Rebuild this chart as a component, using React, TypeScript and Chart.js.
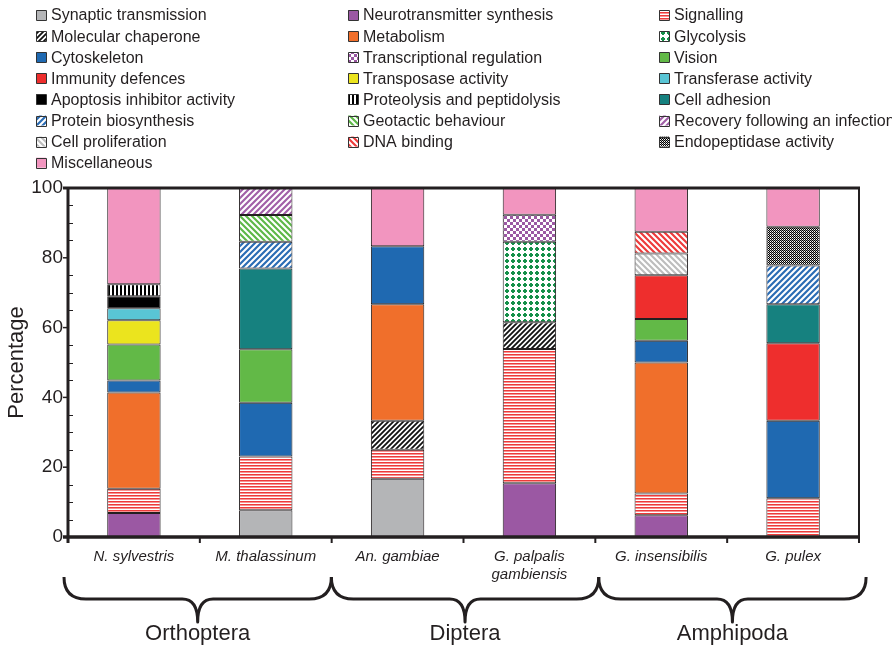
import React, { useEffect, useRef } from 'react';
import { Chart, registerables } from 'chart.js';

Chart.register(...registerables);

// ---------- data ----------
const species: (string | string[])[] = [
  'N. sylvestris',
  'M. thalassinum',
  'An. gambiae',
  ['G. palpalis', 'gambiensis'],
  'G. insensibilis',
  'G. pulex',
];
const groupNames = ['Orthoptera', 'Diptera', 'Amphipoda'];
const groupFirst = [0, 2, 4];
const groupLast = [1, 3, 5];
const yTickValues = [0, 20, 40, 60, 80, 100];

const synaptic = [null, 7.69, 16.67, null, null, null];
const neurotransmitter = [6.9, null, null, 15.38, 6.25, null];
const signalling = [6.9, 15.38, 8.33, 38.46, 6.25, 11.11];
const chaperone = [null, null, 8.33, 7.69, null, null];
const metabolism = [27.59, null, 33.33, null, 37.5, null];
const cytoskeleton = [3.45, 15.38, 16.67, null, 6.25, 22.22];
const vision = [10.34, 15.38, null, null, 6.25, null];
const glycolysis = [null, null, null, 23.08, null, null];
const immunity = [null, null, null, null, 12.5, 22.22];
const cellAdhesion = [null, 23.08, null, null, null, 11.11];
const transposase = [6.9, null, null, null, null, null];
const transferase = [3.45, null, null, null, null, null];
const apoptosis = [3.45, null, null, null, null, null];
const proteolysis = [3.45, null, null, null, null, null];
const proteinBio = [null, 7.69, null, null, null, 11.11];
const cellProlif = [null, null, null, null, 6.25, null];
const geotactic = [null, 7.69, null, null, null, null];
const dnaBinding = [null, null, null, null, 6.25, null];
const recovery = [null, 7.69, null, null, null, null];
const transcriptional = [null, null, null, 7.69, null, null];
const endopeptidase = [null, null, null, null, null, 11.11];
const miscellaneous = [27.59, null, 16.67, 7.69, 12.5, 11.11];

// stacking order (bottom to top)
const seriesNames = [
  'Synaptic transmission',
  'Neurotransmitter synthesis',
  'Signalling',
  'Molecular chaperone',
  'Metabolism',
  'Cytoskeleton',
  'Vision',
  'Glycolysis',
  'Immunity defences',
  'Cell adhesion',
  'Transposase activity',
  'Transferase activity',
  'Apoptosis inhibitor activity',
  'Proteolysis and peptidolysis',
  'Protein biosynthesis',
  'Cell proliferation',
  'Geotactic behaviour',
  'DNA binding',
  'Recovery following an infection',
  'Transcriptional regulation',
  'Endopeptidase activity',
  'Miscellaneous',
];
const seriesValues = [
  synaptic, neurotransmitter, signalling, chaperone, metabolism, cytoskeleton,
  vision, glycolysis, immunity, cellAdhesion, transposase, transferase, apoptosis,
  proteolysis, proteinBio, cellProlif, geotactic, dnaBinding, recovery,
  transcriptional, endopeptidase, miscellaneous,
];

// legend order (row-major, 3 columns)
const legendOrder = [
  'Synaptic transmission', 'Neurotransmitter synthesis', 'Signalling',
  'Molecular chaperone', 'Metabolism', 'Glycolysis',
  'Cytoskeleton', 'Transcriptional regulation', 'Vision',
  'Immunity defences', 'Transposase activity', 'Transferase activity',
  'Apoptosis inhibitor activity', 'Proteolysis and peptidolysis', 'Cell adhesion',
  'Protein biosynthesis', 'Geotactic behaviour', 'Recovery following an infection',
  'Cell proliferation', 'DNA binding', 'Endopeptidase activity',
  'Miscellaneous',
];

// ---------- styles ----------
const INK = '#231f20';
type Kind = 'solid' | 'hstripe' | 'fwd' | 'back' | 'vstripe' | 'dots' | 'checker' | 'fine';
const seriesStyle: Record<string, [Kind, string]> = {
  'Synaptic transmission': ['solid', '#b4b5b7'],
  'Neurotransmitter synthesis': ['solid', '#9b58a3'],
  'Signalling': ['hstripe', '#ee3a3a'],
  'Molecular chaperone': ['fwd', '#111111'],
  'Metabolism': ['solid', '#f06f2b'],
  'Cytoskeleton': ['solid', '#1f69b1'],
  'Vision': ['solid', '#62b947'],
  'Glycolysis': ['dots', '#16904a'],
  'Immunity defences': ['solid', '#ee2e2d'],
  'Cell adhesion': ['solid', '#16817f'],
  'Transposase activity': ['solid', '#ebe41e'],
  'Transferase activity': ['solid', '#59c5d5'],
  'Apoptosis inhibitor activity': ['solid', '#000000'],
  'Proteolysis and peptidolysis': ['vstripe', '#000000'],
  'Protein biosynthesis': ['fwd', '#2a6cb4'],
  'Cell proliferation': ['back', '#bdbdbd'],
  'Geotactic behaviour': ['back', '#5db847'],
  'DNA binding': ['back', '#ee3a3a'],
  'Recovery following an infection': ['fwd', '#a15fa8'],
  'Transcriptional regulation': ['checker', '#9b58a3'],
  'Endopeptidase activity': ['fine', '#000000'],
  'Miscellaneous': ['solid', '#f295bf'],
};

function makeFill(kind: Kind, color: string): string | CanvasPattern {
  if (kind === 'solid') return color;
  const size =
    kind === 'hstripe' ? [4, 3]
    : kind === 'vstripe' ? [4, 4]
    : kind === 'fine' ? [2, 2]
    : kind === 'fwd' && color === '#111111' ? [5, 5]
    : [6, 6];
  const c = document.createElement('canvas');
  c.width = size[0];
  c.height = size[1];
  const g = c.getContext('2d')!;
  const w = size[0], h = size[1];
  g.fillStyle = '#ffffff';
  g.fillRect(0, 0, w, h);
  g.fillStyle = color;
  g.strokeStyle = color;
  if (kind === 'hstripe') {
    g.fillRect(0, 0, w, 1);
    g.globalAlpha = 0.55;
    g.fillRect(0, 1, w, 1);
    g.globalAlpha = 1;
  } else if (kind === 'vstripe') {
    g.fillRect(0, 0, 2, h);
  } else if (kind === 'fwd' || kind === 'back') {
    g.lineWidth = w * 0.36;
    g.beginPath();
    if (kind === 'fwd') {
      g.moveTo(-1, h + 1); g.lineTo(w + 1, -1);
      g.moveTo(-w / 2 - 1, h / 2 + 1); g.lineTo(w / 2 + 1, -h / 2 - 1);
      g.moveTo(w / 2 - 1, h * 1.5 + 1); g.lineTo(w * 1.5 + 1, h / 2 - 1);
    } else {
      g.moveTo(-1, -1); g.lineTo(w + 1, h + 1);
      g.moveTo(w / 2 - 1, -h / 2 - 1); g.lineTo(w * 1.5 + 1, h / 2 + 1);
      g.moveTo(-w / 2 - 1, h / 2 - 1); g.lineTo(w / 2 + 1, h * 1.5 + 1);
    }
    g.stroke();
  } else if (kind === 'dots') {
    g.fillRect(2, 1, 2, 4);
    g.fillRect(1, 2, 4, 2);
  } else if (kind === 'checker') {
    g.fillRect(0, 0, 3, 3);
    g.fillRect(3, 3, 3, 3);
  } else if (kind === 'fine') {
    g.fillRect(0, 0, 1, 1);
    g.fillRect(1, 1, 1, 1);
    g.globalAlpha = 0.4;
    g.fillRect(1, 0, 1, 1);
    g.globalAlpha = 1;
  }
  return g.createPattern(c, 'repeat')!;
}

const FONT = '"Liberation Sans", Arial, Helvetica, sans-serif';

export default function App() {
  const ref = useRef<HTMLCanvasElement | null>(null);

  useEffect(() => {
    document.body.style.margin = '0';
    const canvas = ref.current;
    if (!canvas) return;

    const fills: Record<string, string | CanvasPattern> = {};
    for (const name of seriesNames) {
      const [kind, color] = seriesStyle[name];
      fills[name] = makeFill(kind, color);
    }

    const datasets = seriesNames.map((name, i) => ({
      label: name,
      data: seriesValues[i],
      backgroundColor: fills[name] as any,
      borderColor: INK,
      borderWidth: 1,
      borderSkipped: false as any,
      barPercentage: 0.405,
      categoryPercentage: 1,
    }));

    const line = (ctx: CanvasRenderingContext2D, x1: number, y1: number, x2: number, y2: number) => {
      ctx.beginPath();
      ctx.moveTo(x1, y1);
      ctx.lineTo(x2, y2);
      ctx.stroke();
    };

    const decor = {
      id: 'decor',
      afterDraw(chart: any) {
        const ctx: CanvasRenderingContext2D = chart.ctx;
        const { left, right, top, bottom } = chart.chartArea;
        const xs = chart.scales.x;
        const ys = chart.scales.y;
        ctx.save();
        ctx.strokeStyle = INK;
        ctx.fillStyle = INK;

        // minor ticks inside
        ctx.lineWidth = 1;
        for (let v = 5; v < 100; v += 5) {
          if (v % 20 === 0) continue;
          const py = Math.round(ys.getPixelForValue(v)) + 0.5;
          line(ctx, left, py, left + 5, py);
        }
        // major ticks outside
        ctx.lineWidth = 1.5;
        for (const v of yTickValues) {
          const py = ys.getPixelForValue(v);
          line(ctx, left - 5, py, left, py);
        }
        // x ticks at category boundaries
        ctx.lineWidth = 2;
        const n = species.length;
        const step = xs.getPixelForValue(1) - xs.getPixelForValue(0);
        for (let i = 1; i < n; i++) {
          const px = (xs.getPixelForValue(i - 1) + xs.getPixelForValue(i)) / 2;
          line(ctx, px, bottom, px, bottom + 6);
        }
        // frame
        ctx.lineWidth = 3;
        line(ctx, left - 5, top, right + 1, top);
        line(ctx, left, top - 1, left, bottom + 6);
        ctx.lineWidth = 3.5;
        line(ctx, left - 5, bottom, right + 1, bottom);
        ctx.lineWidth = 2;
        line(ctx, right, top, right, bottom + 6);

        // braces + group labels
        ctx.lineWidth = 3;
        ctx.lineJoin = 'round';
        ctx.lineCap = 'butt';
        const yt = 577, yh = 599, yp = 622, r = 22;
        for (let gI = 0; gI < groupNames.length; gI++) {
          const x0 = xs.getPixelForValue(groupFirst[gI]) - step / 2 - 4 + 3.7 * gI;
          const x1 = xs.getPixelForValue(groupLast[gI]) + step / 2 - 4 + 3.7 * (gI + 1);
          const xm = (x0 + x1) / 2;
          ctx.beginPath();
          ctx.moveTo(x0, yt);
          ctx.quadraticCurveTo(x0, yh, x0 + r, yh);
          ctx.lineTo(xm - r * 0.7, yh);
          ctx.quadraticCurveTo(xm, yh, xm, yp);
          ctx.quadraticCurveTo(xm, yh, xm + r * 0.7, yh);
          ctx.lineTo(x1 - r, yh);
          ctx.quadraticCurveTo(x1, yh, x1, yt);
          ctx.stroke();

          ctx.font = `22px ${FONT}`;
          ctx.textAlign = 'center';
          ctx.textBaseline = 'middle';
          ctx.fillText(groupNames[gI], xm, 634);
        }

        // legend
        const colX = [36, 348, 659];
        ctx.font = `16px ${FONT}`;
        ctx.textAlign = 'left';
        ctx.textBaseline = 'middle';
        legendOrder.forEach((name, k) => {
          const col = k % 3;
          const row = Math.floor(k / 3);
          const cy = 15 + row * 21.1;
          const bx = colX[col];
          ctx.fillStyle = fills[name] as any;
          ctx.fillRect(bx, cy - 5, 10, 10);
          ctx.lineWidth = 1;
          ctx.strokeStyle = '#333333';
          ctx.strokeRect(bx + 0.5, Math.round(cy - 5) + 0.5, 10, 10);
          ctx.fillStyle = INK;
          ctx.fillText(name, bx + 15, cy + 1);
        });

        ctx.restore();
      },
    };

    const chart = new Chart(canvas, {
      type: 'bar',
      data: { labels: species as any, datasets },
      options: {
        responsive: false,
        animation: false,
        devicePixelRatio: 1,
        layout: { padding: { left: 0, top: 188, right: 33, bottom: 0 } },
        plugins: {
          legend: { display: false },
          tooltip: { enabled: false },
        },
        scales: {
          x: {
            stacked: true,
            grid: { display: false, drawTicks: false },
            border: { display: false },
            ticks: {
              color: INK,
              padding: 10,
              maxRotation: 0,
              autoSkip: false,
              font: { family: FONT, size: 15, style: 'italic', lineHeight: 1.25 },
            },
            afterFit: (s: any) => { s.height = 110; },
          },
          y: {
            stacked: true,
            min: 0,
            max: 100,
            grid: { display: false, drawTicks: false },
            border: { display: false },
            ticks: {
              stepSize: 20,
              color: INK,
              padding: 5,
              font: { family: FONT, size: 19 },
            },
            title: {
              display: true,
              text: 'Percentage',
              color: INK,
              padding: { top: 4, bottom: 0 },
              font: { family: FONT, size: 22 },
            },
            afterFit: (s: any) => { s.width = 68; },
          },
        },
      },
      plugins: [decor],
    });

    return () => chart.destroy();
  }, []);

  return (
    <canvas
      ref={ref}
      width={892}
      height={647}
      style={{ position: 'absolute', left: 0, top: 0, width: 892, height: 647 }}
    />
  );
}
